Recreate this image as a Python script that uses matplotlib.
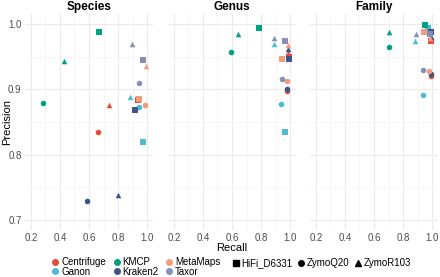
import matplotlib
matplotlib.use("Agg")
import matplotlib.pyplot as plt
from matplotlib.lines import Line2D

plt.rcParams['font.family'] = ['Liberation Sans', 'DejaVu Sans']

tools = ['Centrifuge', 'Ganon', 'KMCP', 'Kraken2', 'MetaMaps', 'Taxor']
samples = ['HiFi_D6331', 'ZymoQ20', 'ZymoR103']
ranks = ['Species', 'Genus', 'Family']

colors = ['#E64B35', '#4DBBD5', '#00A087', '#3C5488', '#F39B7F', '#8491B4']
markers = ['s', 'o', '^']

# recall / precision per tool, in sample order (HiFi_D6331, ZymoQ20, ZymoR103)
species_recall = {
    'Centrifuge': [0.940, 0.664, 0.740],
    'Ganon': [0.970, 0.943, 0.880],
    'KMCP': [0.671, 0.287, 0.428],
    'Kraken2': [0.915, 0.584, 0.798],
    'MetaMaps': [0.947, 0.984, 0.991],
    'Taxor': [0.970, 0.947, 0.894],
}
species_precision = {
    'Centrifuge': [0.883, 0.834, 0.876],
    'Ganon': [0.820, 0.873, 0.888],
    'KMCP': [0.987, 0.879, 0.943],
    'Kraken2': [0.869, 0.729, 0.739],
    'MetaMaps': [0.885, 0.876, 0.936],
    'Taxor': [0.944, 0.909, 0.969],
}
genus_recall = {
    'Centrifuge': [0.990, 0.980, 0.985],
    'Ganon': [0.961, 0.939, 0.886],
    'KMCP': [0.789, 0.595, 0.643],
    'Kraken2': [0.991, 0.980, 0.986],
    'MetaMaps': [0.941, 0.980, 0.986],
    'Taxor': [0.966, 0.941, 0.889],
}
genus_precision = {
    'Centrifuge': [0.950, 0.897, 0.956],
    'Ganon': [0.834, 0.878, 0.969],
    'KMCP': [0.994, 0.957, 0.985],
    'Kraken2': [0.947, 0.900, 0.961],
    'MetaMaps': [0.947, 0.912, 0.967],
    'Taxor': [0.974, 0.916, 0.978],
}
family_recall = {
    'Centrifuge': [0.990, 0.990, 0.990],
    'Ganon': [0.970, 0.937, 0.882],
    'KMCP': [0.950, 0.705, 0.705],
    'Kraken2': [0.990, 0.990, 0.990],
    'MetaMaps': [0.945, 0.978, 0.985],
    'Taxor': [0.985, 0.940, 0.886],
}
family_precision = {
    'Centrifuge': [0.973, 0.921, 0.975],
    'Ganon': [0.994, 0.891, 0.974],
    'KMCP': [0.998, 0.964, 0.987],
    'Kraken2': [0.988, 0.924, 0.980],
    'MetaMaps': [0.988, 0.928, 0.978],
    'Taxor': [0.985, 0.929, 0.985],
}

recall = [species_recall, genus_recall, family_recall]
precision = [species_precision, genus_precision, family_precision]

fig = plt.figure(figsize=(4.4, 2.77), dpi=100)
lefts = [25 / 440, 168 / 440, 310 / 440]
width = 128 / 440
bottom = 1 - 230 / 277
height = 216 / 277

for k, rank in enumerate(ranks):
    ax = fig.add_axes([lefts[k], bottom, width, height])
    ax.set_xlim(0.16, 1.04)
    ax.set_ylim(0.685, 1.015)
    ax.set_xticks([0.2, 0.4, 0.6, 0.8, 1.0])
    ax.set_xticks([0.3, 0.5, 0.7, 0.9], minor=True)
    ax.set_yticks([0.7, 0.8, 0.9, 1.0])
    ax.set_yticks([0.75, 0.85, 0.95], minor=True)
    ax.grid(True, which='major', color='#EBEBEB', lw=0.8)
    ax.grid(True, which='minor', color='#F3F3F3', lw=0.5)
    ax.set_axisbelow(True)
    for s in ax.spines.values():
        s.set_visible(False)
    ax.tick_params(which='both', length=0, labelsize=7, labelcolor='#4D4D4D', pad=2.5)
    ax.set_xticklabels(['0.2', '0.4', '0.6', '0.8', '1.0'])
    if k == 0:
        ax.set_yticklabels(['0.7', '0.8', '0.9', '1.0'])
    else:
        ax.set_yticklabels([])
    ax.set_title(rank, fontsize=8.5, fontweight='bold', pad=3)
    for t, tool in enumerate(tools):
        for j in range(len(samples)):
            ax.scatter(recall[k][tool][j], precision[k][tool][j], s=16,
                       marker=markers[j], color=colors[t], linewidths=0, zorder=3)

fig.text(7 / 440, 1 - 122 / 277, 'Precision', rotation=90, fontsize=8,
         ha='center', va='center')
fig.text(232 / 440, 1 - 248 / 277, 'Recall', fontsize=8, ha='center', va='center')

color_handles = [Line2D([], [], marker='o', ls='', color=c, markersize=4)
                 for c in colors]
fig.legend(color_handles, tools, ncol=3, loc='center left',
           bbox_to_anchor=(0.115, 1 - 267 / 277), frameon=False, fontsize=7,
           handletextpad=0.1, columnspacing=0.6, labelspacing=-0.05,
           handlelength=1.0, borderaxespad=0, borderpad=0)
shape_handles = [Line2D([], [], marker=m, ls='', color='black', markersize=4)
                 for m in markers]
fig.legend(shape_handles, samples, ncol=3, loc='center left',
           bbox_to_anchor=(0.525, 1 - 263 / 277), frameon=False, fontsize=7,
           handletextpad=0.1, columnspacing=0.35, handlelength=1.0,
           borderaxespad=0, borderpad=0)

fig.savefig('out.png', dpi=100)
